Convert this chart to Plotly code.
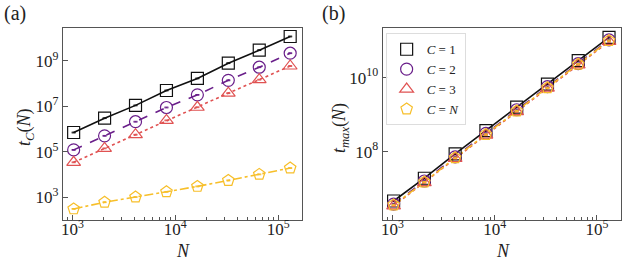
import plotly.graph_objects as go

N = [1024, 2048, 4096, 8192, 16384, 32768, 65536, 131072]

# panel (a): t_C(N)
tc_1 = [7e5, 3e6, 1.1e7, 5e7, 1.7e8, 8e8, 3e9, 1.2e10]
tc_2 = [1.2e5, 5e5, 2.1e6, 8.9e6, 3.2e7, 1.4e8, 5.3e8, 2.2e9]
tc_3 = [3.4e4, 1.4e5, 5.6e5, 2.4e6, 9.1e6, 3.8e7, 1.5e8, 6e8]
tc_N = [300, 590, 1000, 1700, 2950, 5400, 1.0e4, 1.9e4]

# panel (b): t_max(N)
tm_1 = [4.6e6, 1.9e7, 8.7e7, 3.7e8, 1.6e9, 6.7e9, 2.9e10, 1.23e11]
tm_2 = [3.8e6, 1.6e7, 7.2e7, 3.1e8, 1.35e9, 5.7e9, 2.4e10, 1.05e11]
tm_3 = [3.4e6, 1.45e7, 6.5e7, 2.8e8, 1.2e9, 5.2e9, 2.2e10, 9.5e10]
tm_N = [3.6e6, 1.5e7, 6.8e7, 2.9e8, 1.25e9, 5.3e9, 2.3e10, 1.0e11]

labels = ["<i>C</i> = 1", "<i>C</i> = 2", "<i>C</i> = 3", "<i>C</i> = <i>N</i>"]
colors = ["#111111", "#6a1f8a", "#e05252", "#f7bf2a"]
symbols = ["square-open", "circle-open", "triangle-up-open", "pentagon-open"]
dashes = ["solid", "dash", "dot", "dashdot"]

FONT = "Liberation Serif"

fig = go.Figure()

for series, xa, ya, leg in [([tc_1, tc_2, tc_3, tc_N], "x", "y", False),
                            ([tm_1, tm_2, tm_3, tm_N], "x2", "y2", True)]:
    for i, ys in enumerate(series):
        fig.add_trace(go.Scatter(
            x=N, y=ys, mode="lines", xaxis=xa, yaxis=ya,
            line=dict(color=colors[i], width=1.6, dash=dashes[i]),
            showlegend=False, hoverinfo="skip"))
    for i, ys in enumerate(series):
        fig.add_trace(go.Scatter(
            x=N, y=ys, mode="markers", xaxis=xa, yaxis=ya, name=labels[i],
            marker=dict(symbol=symbols[i], size=12, color=colors[i],
                        line=dict(width=1.2, color=colors[i])),
            error_y=dict(type="percent", value=4, color=colors[i],
                         thickness=1, width=2),
            showlegend=leg))

tick_font = dict(family=FONT, size=17, color="#222")
axis_common = dict(type="log", showgrid=False, zeroline=False, automargin=False,
                   showline=True, linecolor="#555", linewidth=1, mirror=True,
                   ticks="inside", ticklen=5, tickcolor="#555",
                   tickfont=tick_font)

xvals = [1e3, 1e4, 1e5]
xtext = ["10<sup>3</sup>", "10<sup>4</sup>", "10<sup>5</sup>"]
xminor = dict(ticks="inside", ticklen=3, tickcolor="#555", dtick="D1")

title_font = dict(family=FONT, size=18, color="#222")

fig.update_layout(
    width=623, height=260,
    margin=dict(l=0, r=0, t=0, b=0, autoexpand=False),
    paper_bgcolor="white", plot_bgcolor="white",
    font=dict(family=FONT, color="#222"),
    xaxis=dict(axis_common, domain=[0.101, 0.485], range=[2.906, 5.234],
               tickvals=xvals, ticktext=xtext, minor=xminor, anchor="y",
               ticklabelstandoff=-6),
    yaxis=dict(axis_common, domain=[0.154, 0.892], range=[1.99, 10.45],
               tickvals=[1e3, 1e5, 1e7, 1e9],
               ticktext=["10<sup>3</sup>", "10<sup>5</sup>", "10<sup>7</sup>", "10<sup>9</sup>"],
               anchor="x"),
    xaxis2=dict(axis_common, domain=[0.614, 0.996], range=[2.902, 5.23],
                tickvals=xvals, ticktext=xtext, minor=xminor, anchor="y2",
                ticklabelstandoff=-6),
    yaxis2=dict(axis_common, domain=[0.154, 0.892], range=[6.15, 11.34],
                tickvals=[1e8, 1e10],
                ticktext=["10<sup>8</sup>", "10<sup>10</sup>"],
                anchor="x2"),
    legend=dict(x=0.619, y=0.872, xanchor="left", yanchor="top",
                bgcolor="rgba(255,255,255,0.9)", bordercolor="#ddd", borderwidth=1,
                font=dict(family=FONT, size=13), tracegroupgap=0,
                itemwidth=30),
    annotations=[
        dict(text="(a)", x=0.003, y=1.0, xref="paper", yref="paper",
             xanchor="left", yanchor="top", showarrow=False,
             font=dict(family=FONT, size=20, color="#222")),
        dict(text="(b)", x=0.513, y=1.0, xref="paper", yref="paper",
             xanchor="left", yanchor="top", showarrow=False,
             font=dict(family=FONT, size=20, color="#222")),
        dict(text="<i>N</i>", x=183 / 623, y=1 - 251 / 260, xref="paper", yref="paper",
             xanchor="center", yanchor="middle", showarrow=False, font=title_font),
        dict(text="<i>N</i>", x=503 / 623, y=1 - 251 / 260, xref="paper", yref="paper",
             xanchor="center", yanchor="middle", showarrow=False, font=title_font),
        dict(text="<i>t</i><sub><i>C</i></sub>(<i>N</i>)", x=25 / 623, y=1 - 128 / 260,
             xref="paper", yref="paper", xanchor="center", yanchor="middle",
             showarrow=False, textangle=-90, font=title_font),
        dict(text="<i>t</i><sub><i>max</i></sub>(<i>N</i>)", x=340 / 623, y=1 - 128 / 260,
             xref="paper", yref="paper", xanchor="center", yanchor="middle",
             showarrow=False, textangle=-90, font=title_font),
    ],
)

fig.write_html("out.html", config={"displayModeBar": False},
               post_script="document.body.style.margin='0';document.body.style.padding='0';")
